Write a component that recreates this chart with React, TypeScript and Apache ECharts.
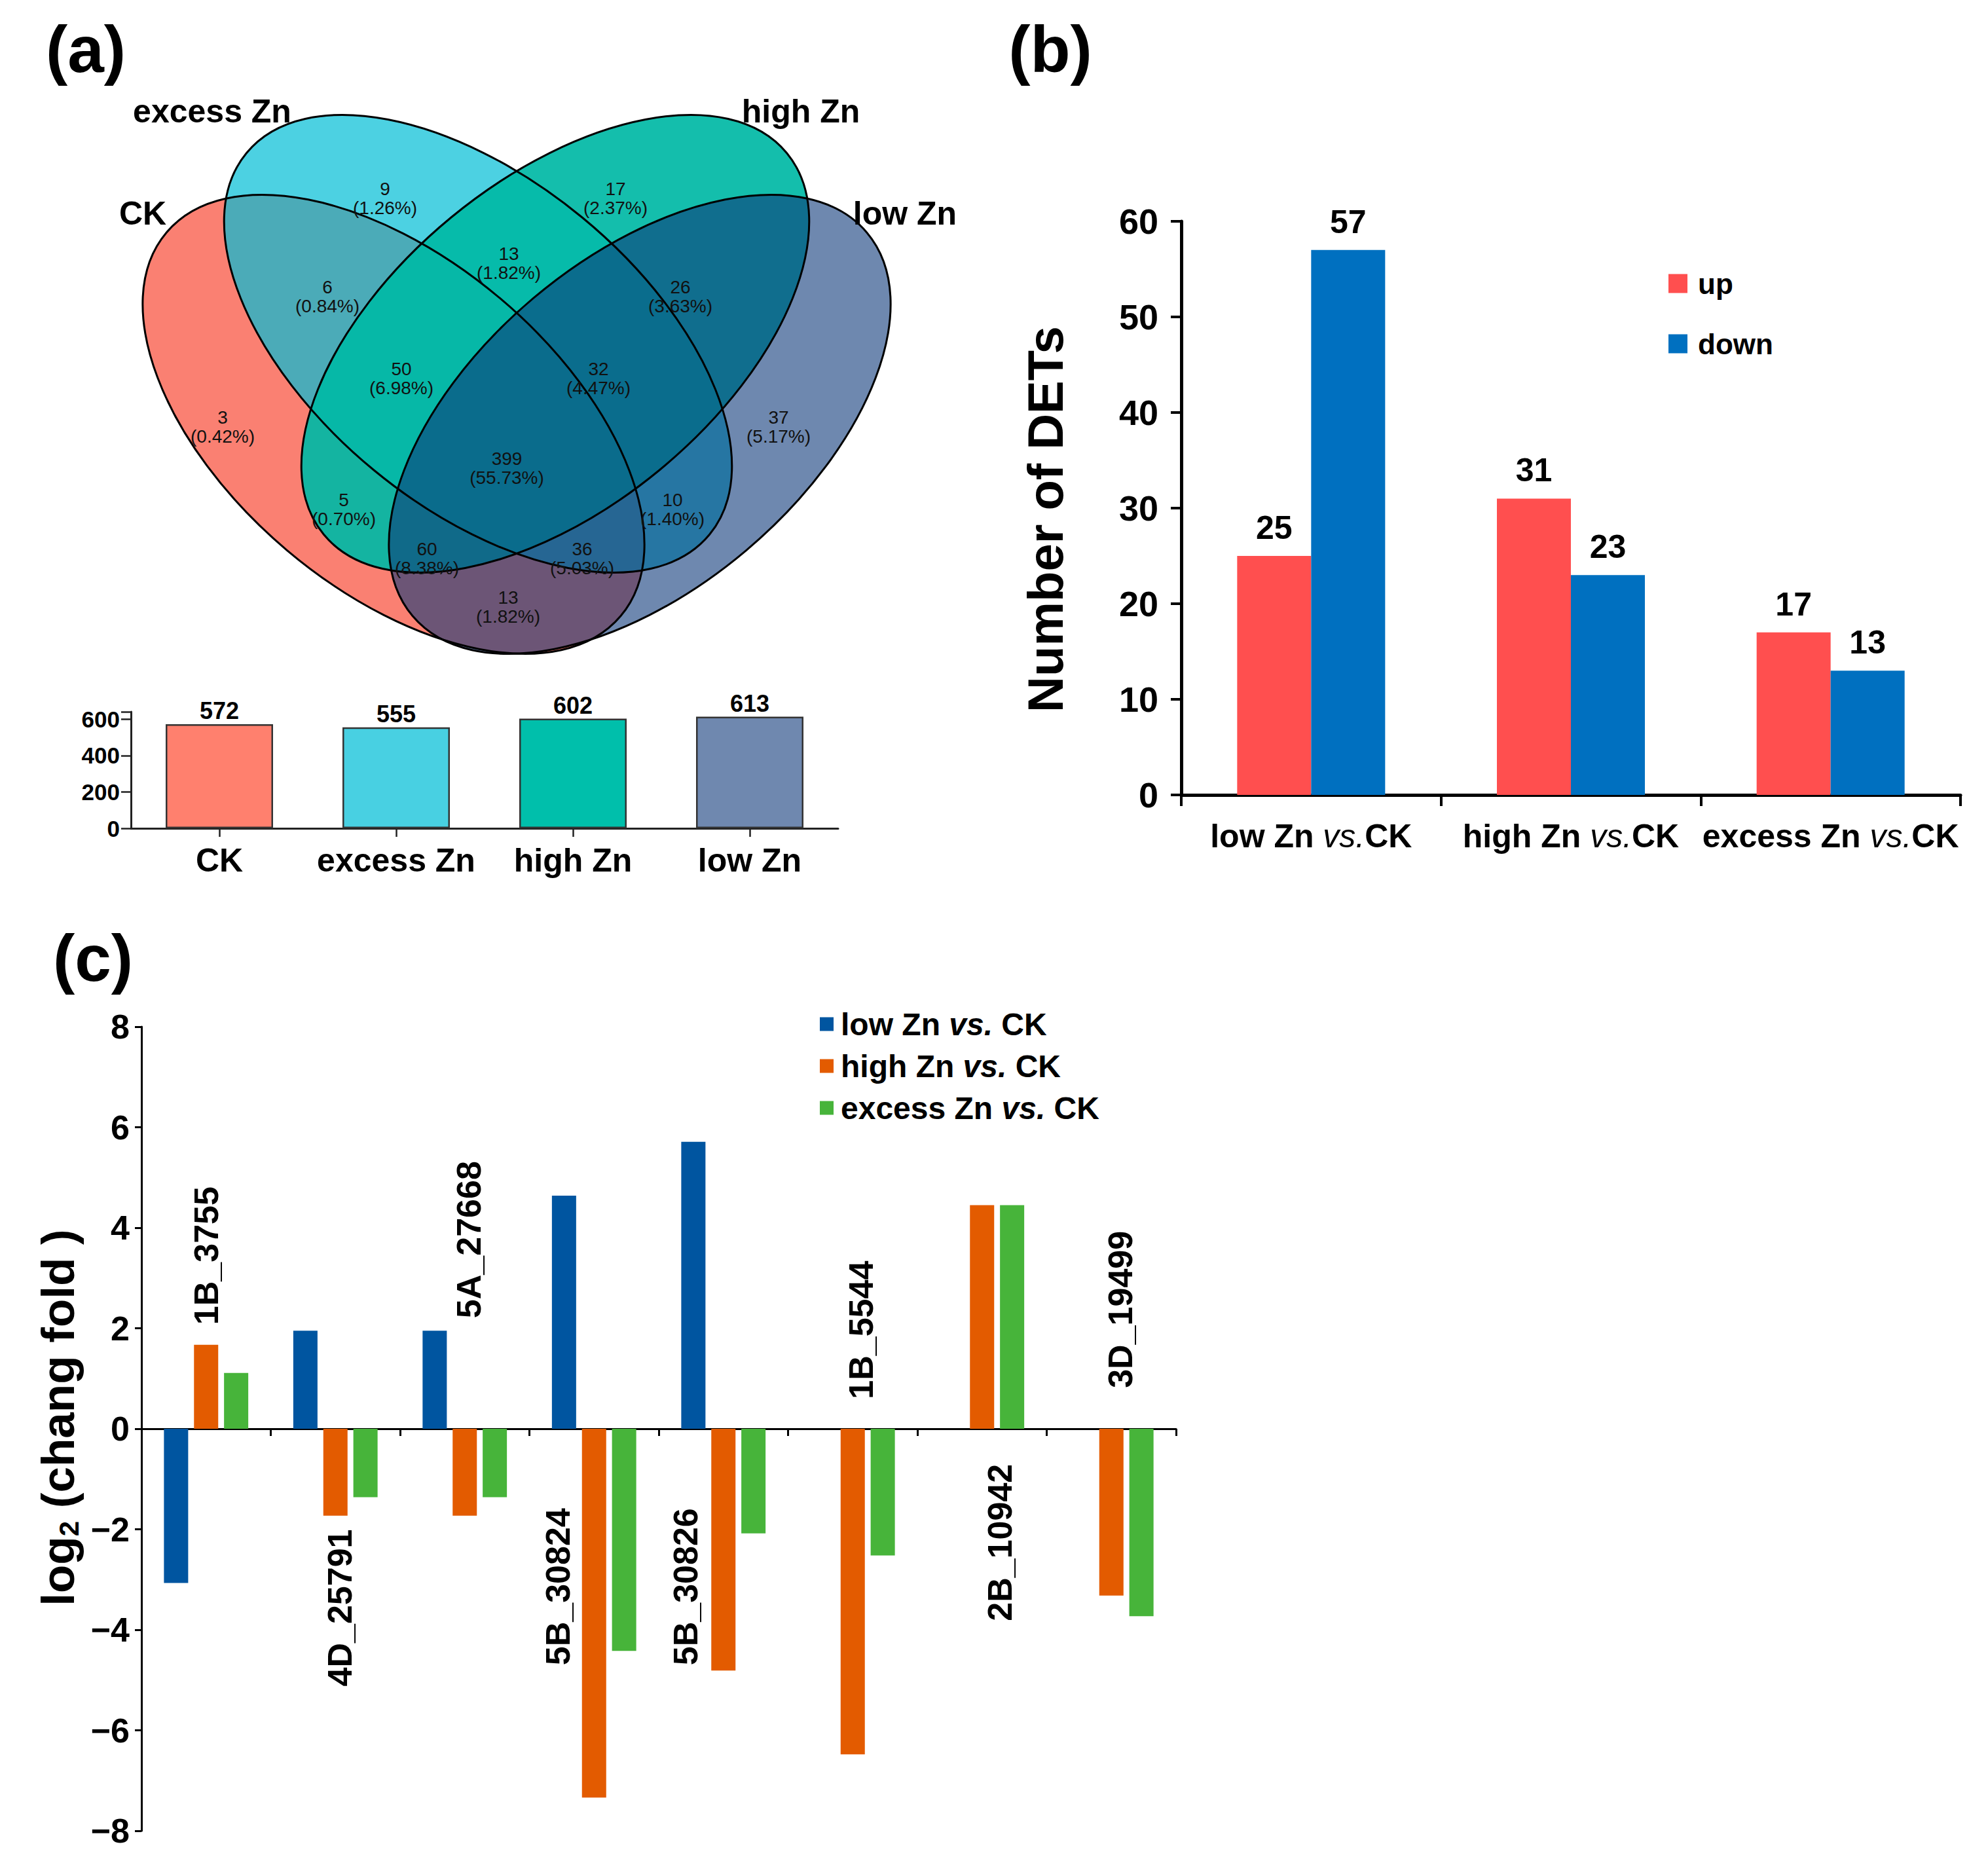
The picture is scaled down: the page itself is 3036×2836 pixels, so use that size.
import React, { useEffect, useRef } from 'react';
import * as echarts from 'echarts';

const FONT = '"Liberation Sans", Arial, Helvetica, sans-serif';

// ---------- (a) Venn diagram data ----------
const vennSetNames = ['CK', 'excess Zn', 'high Zn', 'low Zn'];
const vennRegionCounts = [9, 17, 3, 6, 13, 26, 37, 50, 32, 399, 5, 10, 60, 36, 13];
const vennRegionShares = ['1.26%', '2.37%', '0.42%', '0.84%', '1.82%', '3.63%', '5.17%', '6.98%', '4.47%', '55.73%', '0.70%', '1.40%', '8.38%', '5.03%', '1.82%'];

// ---------- (a) totals per set ----------
const setTotals = [572, 555, 602, 613];

// ---------- (b) DET counts ----------
const comparisons = ['low Zn', 'high Zn', 'excess Zn'];
const upCounts = [25, 31, 17];
const downCounts = [57, 23, 13];
const directionNames = ['up', 'down'];

// ---------- (c) log2 fold change ----------
const genes = ['1B_3755', '4D_25791', '5A_27668', '5B_30824', '5B_30826', '1B_5544', '2B_10942', '3D_19499'];
const lowVsCK = [-3.07, 1.95, 1.95, 4.64, 5.71, null, null, null];
const highVsCK = [1.67, -1.73, -1.73, -7.34, -4.81, -6.48, 4.45, -3.32];
const excessVsCK = [1.11, -1.36, -1.36, -4.42, -2.08, -2.52, 4.45, -3.73];
const foldSeriesNames = comparisons.map((c) => `${c} vs. CK`);

// ---------- layout (positions, sizes, styles) ----------
const VENN_ELLIPSES = [
  { cx: 601, cy: 648, rx: 454, ry: 252, deg: -40.2, fill: 'rgba(250,128,114,1)' },
  { cx: 730, cy: 525, rx: 458, ry: 250, deg: -39.5, fill: 'rgba(0,189,214,0.7)' },
  { cx: 848, cy: 525, rx: 458, ry: 250, deg: 39.5, fill: 'rgba(0,184,165,0.92)' },
  { cx: 977, cy: 648, rx: 454, ry: 252, deg: 40.2, fill: 'rgba(13,57,122,0.6)' },
];
const VENN_LABEL_XY = [
  [588, 303], [940, 303], [340, 652], [500, 453], [777, 402], [1039, 453], [1189, 652],
  [613, 578], [914, 578], [774, 715], [525, 778], [1027, 778], [652, 853], [889, 853], [776, 927],
];
const VENN_SET_LABEL_XY = [[218, 326], [324, 170], [1223, 170], [1382, 326]];
const TOTAL_COLORS = ['#FF806E', '#48D0E2', '#00BFAB', '#6F88AF'];
const DIR_COLORS = ['#FF4F4F', '#0070C0'];
const FOLD_COLORS = ['#0055A0', '#E35B00', '#47B43A'];
const GENE_LABEL_SHIFT = [0, 0.035, 0.03, -0.28, -0.29, 0.066, 0.14, 0.07];
const GENE_LABEL_AT = [2.07, -2.0, 2.2, -1.58, -1.58, 0.59, -0.7, 0.81];

function buildOption() {
  const rad = (d: number) => (d * Math.PI) / 180;
  const elements: any[] = [];
  VENN_ELLIPSES.forEach((e) => {
    elements.push({
      type: 'ellipse', x: e.cx, y: e.cy, rotation: rad(e.deg),
      shape: { cx: 0, cy: 0, rx: e.rx, ry: e.ry },
      style: { fill: e.fill, stroke: 'none' },
    });
  });
  VENN_ELLIPSES.forEach((e) => {
    elements.push({
      type: 'ellipse', x: e.cx, y: e.cy, rotation: rad(e.deg),
      shape: { cx: 0, cy: 0, rx: e.rx, ry: e.ry },
      style: { fill: 'none', stroke: '#000', lineWidth: 3 },
    });
  });
  vennRegionCounts.forEach((c, i) => {
    elements.push({
      type: 'text', x: VENN_LABEL_XY[i][0], y: VENN_LABEL_XY[i][1],
      style: {
        text: `${c}\n(${vennRegionShares[i]})`, fill: '#111', fontFamily: FONT, fontSize: 28,
        lineHeight: 29, align: 'center', verticalAlign: 'middle',
      },
    });
  });
  vennSetNames.forEach((n, i) => {
    elements.push({
      type: 'text', x: VENN_SET_LABEL_XY[i][0], y: VENN_SET_LABEL_XY[i][1],
      style: { text: n, fill: '#000', fontFamily: FONT, fontSize: 50, fontWeight: 'bold', align: 'center', verticalAlign: 'middle' },
    });
  });
  const tags: [string, number, number][] = [['(a)', 131, 75], ['(b)', 1604, 75], ['(c)', 142, 1463]];
  tags.forEach(([t, x, y]) => {
    elements.push({
      type: 'text', x, y,
      style: { text: t, fill: '#000', fontFamily: FONT, fontSize: 100, fontWeight: 'bold', align: 'center', verticalAlign: 'middle' },
    });
  });
  elements.push({
    type: 'text', x: 1596, y: 793, rotation: Math.PI / 2,
    style: { text: 'Number of DETs', fill: '#000', fontFamily: FONT, fontSize: 76, fontWeight: 'bold', align: 'center', verticalAlign: 'middle' },
  });
  elements.push({
    type: 'text', x: 88, y: 2165, rotation: Math.PI / 2,
    style: {
      text: '{a|log}{s|2}{a| (chang fold )}', align: 'center', verticalAlign: 'middle',
      rich: {
        a: { fontFamily: FONT, fontSize: 71, fontWeight: 'bold', fill: '#000', lineHeight: 76 },
        s: { fontFamily: FONT, fontSize: 42, fontWeight: 'bold', fill: '#000', lineHeight: 42, verticalAlign: 'bottom' },
      },
    },
  });

  const boldLabel = (size: number) => ({ fontFamily: FONT, fontSize: size, fontWeight: 'bold', color: '#000' });

  return {
    animation: false,
    backgroundColor: '#ffffff',
    textStyle: { fontFamily: FONT },
    grid: [
      { left: 200, top: 1087, width: 1080, height: 178, outerBoundsMode: 'none' },
      { left: 1804, top: 338, width: 1190, height: 876, outerBoundsMode: 'none' },
      { left: 216, top: 1568, width: 1580, height: 1228, outerBoundsMode: 'none' },
    ],
    xAxis: [
      {
        gridIndex: 0, type: 'category', data: vennSetNames,
        axisLine: { show: true, lineStyle: { color: '#222', width: 3 } },
        axisTick: { show: true, alignWithLabel: true, length: 13, lineStyle: { color: '#222', width: 2.5 } },
        axisLabel: { ...boldLabel(50), margin: 24, interval: 0 },
        splitLine: { show: false },
      },
      {
        gridIndex: 1, type: 'category', data: comparisons,
        axisLine: { show: true, lineStyle: { color: '#000', width: 5 } },
        axisTick: { show: true, length: 17, lineStyle: { color: '#000', width: 4 } },
        axisLabel: {
          interval: 0, margin: 38,
          formatter: (v: string) => `{n|${v} }{i|vs.}{n|CK}`,
          rich: {
            n: { fontFamily: FONT, fontSize: 50, fontWeight: 'bold', color: '#000' },
            i: { fontFamily: FONT, fontSize: 50, fontStyle: 'italic', color: '#000' },
          },
        },
        splitLine: { show: false },
      },
      {
        gridIndex: 2, type: 'category', data: genes,
        axisLine: { show: true, onZero: true, lineStyle: { color: '#000', width: 3 } },
        axisTick: { show: true, length: 11, lineStyle: { color: '#000', width: 3 } },
        axisLabel: { show: false },
        splitLine: { show: false },
      },
      { gridIndex: 2, type: 'value', min: -0.5, max: 7.5, show: false, splitLine: { show: false } },
    ],
    yAxis: [
      {
        gridIndex: 0, type: 'value', min: 0, max: 640, interval: 200,
        axisLine: { show: true, onZero: false, lineStyle: { color: '#222', width: 3 } },
        axisTick: { show: true, length: 15, lineStyle: { color: '#222', width: 2.5 } },
        axisLabel: { ...boldLabel(35), margin: 17, formatter: (v: number) => (v % 200 === 0 ? String(v) : '') },
        splitLine: { show: false },
      },
      {
        gridIndex: 1, type: 'value', min: 0, max: 60, interval: 10,
        axisLine: { show: true, onZero: false, lineStyle: { color: '#000', width: 5 } },
        axisTick: { show: true, length: 16, lineStyle: { color: '#000', width: 4 } },
        axisLabel: { ...boldLabel(54), margin: 35 },
        splitLine: { show: false },
      },
      {
        gridIndex: 2, type: 'value', min: -8, max: 8, interval: 2,
        axisLine: { show: true, onZero: false, lineStyle: { color: '#000', width: 3 } },
        axisTick: { show: true, length: 10, lineStyle: { color: '#000', width: 3 } },
        axisLabel: { ...boldLabel(52), margin: 18, formatter: (v: number) => (v < 0 ? '\u2212' + Math.abs(v) : String(v)) },
        splitLine: { show: false },
      },
    ],
    legend: [
      {
        data: directionNames, orient: 'vertical', left: 2543, top: 406, itemWidth: 29, itemHeight: 29,
        itemGap: 48, icon: 'rect', selectedMode: false,
        textStyle: { ...boldLabel(44), padding: [0, 0, 0, 11] },
      },
      {
        data: foldSeriesNames, orient: 'vertical', left: 1247, top: 1535, itemWidth: 21, itemHeight: 21,
        itemGap: 16, icon: 'rect', selectedMode: false,
        formatter: (name: string) => {
          const base = name.replace(' vs. CK', '');
          return `{n|${base} }{i|vs.}{n| CK}`;
        },
        textStyle: {
          padding: [0, 0, 0, 6],
          rich: {
            n: { fontFamily: FONT, fontSize: 48, fontWeight: 'bold', color: '#000' },
            i: { fontFamily: FONT, fontSize: 48, fontWeight: 'bold', fontStyle: 'italic', color: '#000' },
          },
        },
      },
    ],
    series: [
      {
        type: 'bar', name: 'totals', xAxisIndex: 0, yAxisIndex: 0, barWidth: 164,
        data: setTotals.map((v, i) => ({ value: v, itemStyle: { color: TOTAL_COLORS[i] } })),
        itemStyle: { borderColor: '#333', borderWidth: 2.5 },
        label: { show: true, position: 'top', distance: 2, ...boldLabel(36) },
      },
      {
        type: 'bar', name: directionNames[0], xAxisIndex: 1, yAxisIndex: 1, barWidth: 113, barGap: '0%',
        data: upCounts, itemStyle: { color: DIR_COLORS[0] },
        label: { show: true, position: 'top', distance: 18, ...boldLabel(50) },
      },
      {
        type: 'bar', name: directionNames[1], xAxisIndex: 1, yAxisIndex: 1, barWidth: 113, barGap: '0%',
        data: downCounts, itemStyle: { color: DIR_COLORS[1] },
        label: { show: true, position: 'top', distance: 18, ...boldLabel(50) },
      },
      ...[lowVsCK, highVsCK, excessVsCK].map((d, k) => ({
        type: 'bar', name: foldSeriesNames[k], xAxisIndex: 2, yAxisIndex: 2, barWidth: 37, barGap: '24%',
        data: d, itemStyle: { color: FOLD_COLORS[k] },
      })),
      {
        type: 'custom', name: 'geneLabels', xAxisIndex: 3, yAxisIndex: 2, silent: true,
        data: genes.map((g, i) => [i + GENE_LABEL_SHIFT[i], GENE_LABEL_AT[i]]),
        renderItem: (params: any, api: any) => {
          const i = params.dataIndex;
          const pt = api.coord([api.value(0), api.value(1)]);
          return {
            type: 'text', x: pt[0], y: pt[1], rotation: Math.PI / 2,
            style: {
              text: genes[i], fill: '#000', fontFamily: FONT, fontSize: 52, fontWeight: 'bold',
              align: GENE_LABEL_AT[i] > 0 ? 'left' : 'right', verticalAlign: 'middle',
            },
          };
        },
      },
    ],
    graphic: { elements },
  };
}

export default function App() {
  const ref = useRef<HTMLDivElement>(null);
  useEffect(() => {
    const chart = echarts.init(ref.current as HTMLDivElement, null, { renderer: 'svg' });
    chart.setOption(buildOption() as any);
    return () => chart.dispose();
  }, []);
  return (
    <div
      ref={ref}
      style={{ position: 'absolute', left: 0, top: 0, width: 3036, height: 2836, background: '#fff' }}
    />
  );
}
